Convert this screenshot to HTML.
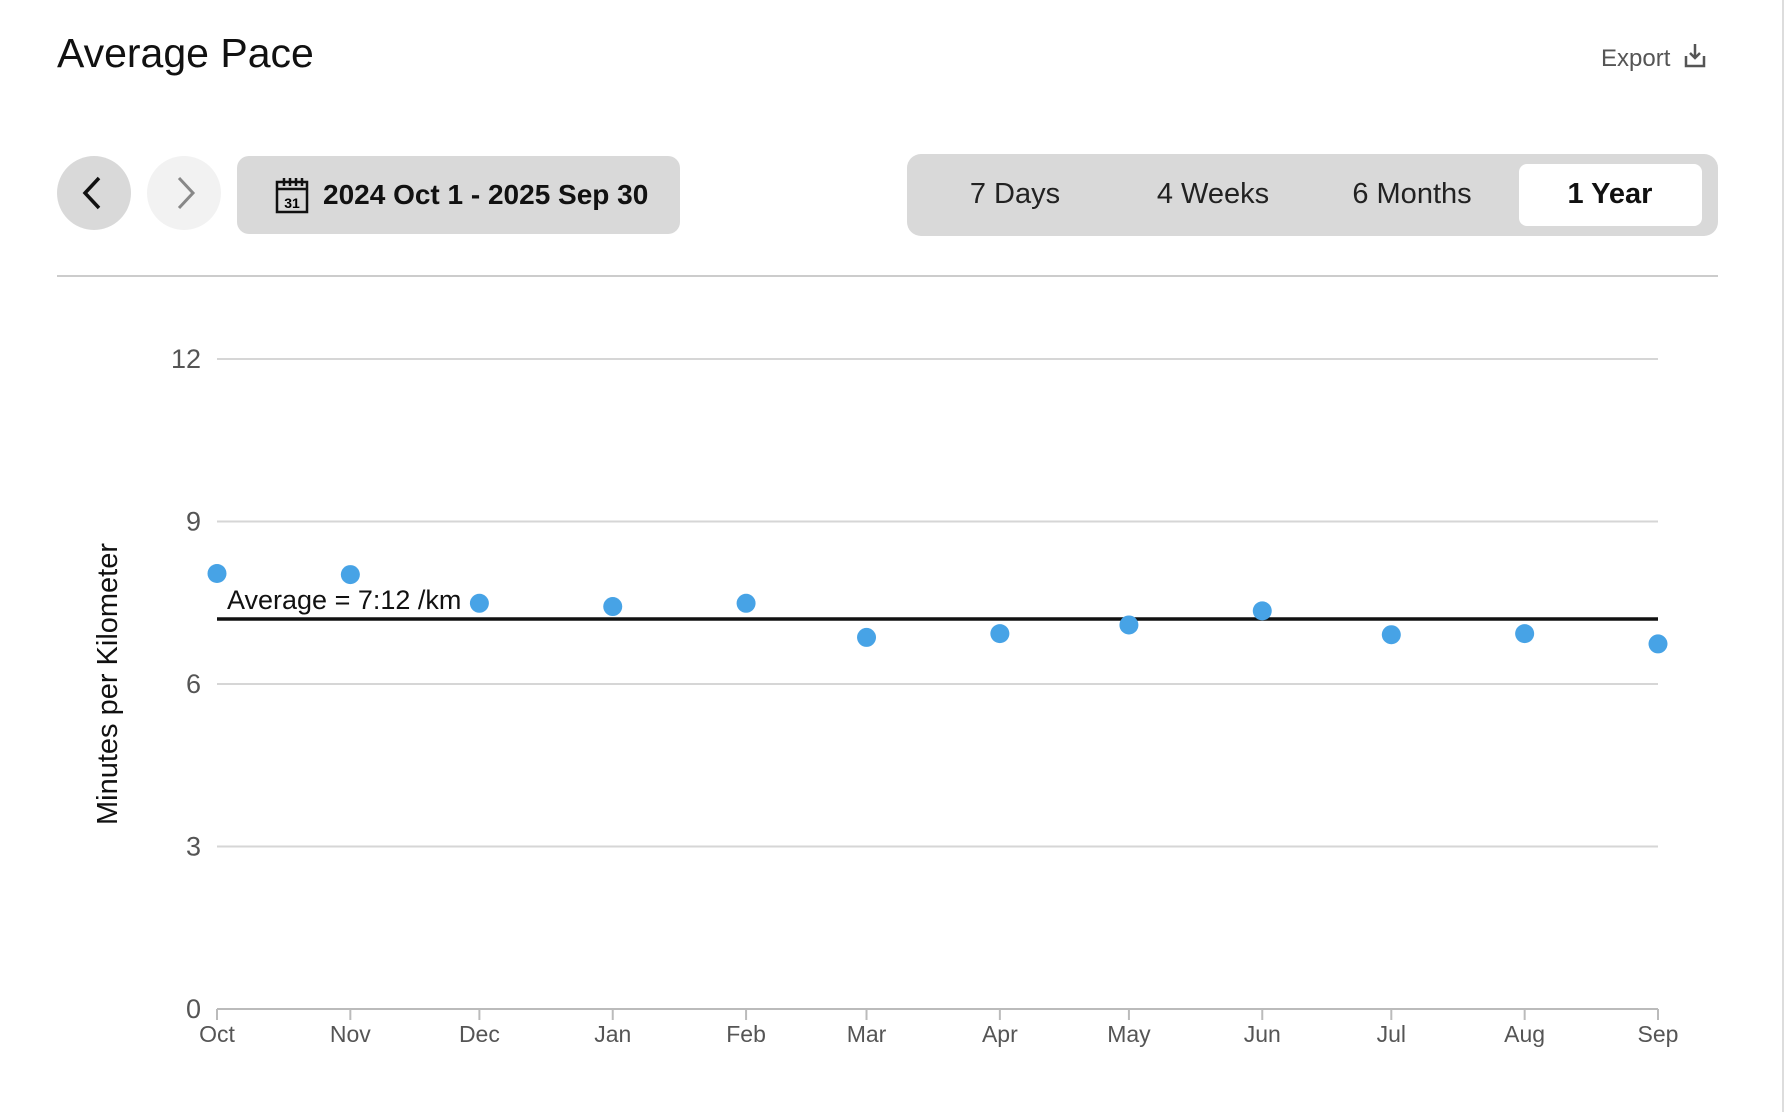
<!DOCTYPE html>
<html><head><meta charset="utf-8"><style>
body{margin:0;width:1788px;height:1112px;background:#fff;font-family:"Liberation Sans",sans-serif;overflow:hidden;position:relative}
.abs{position:absolute}
</style></head><body>
<div class="abs" style="left:57px;top:30px;font-size:41px;color:#111">Average Pace</div>
<div class="abs" style="left:1601px;top:42px;font-size:24px;color:#555">Export
<svg width="24" height="28" viewBox="0 0 24 28" style="vertical-align:-4px;margin-left:6px"><path d="M12 2v14M7 11l5 5 5-5" stroke="#555" stroke-width="2.5" fill="none"/><path d="M3 14v10h18V14" stroke="#555" stroke-width="2.5" fill="none"/></svg></div>
<div class="abs" style="left:57px;top:156px;width:74px;height:74px;border-radius:50%;background:#d9d9d9">
<svg width="74" height="74"><path d="M42 22L28 37l14 15" stroke="#111" stroke-width="3.5" fill="none"/></svg></div>
<div class="abs" style="left:147px;top:156px;width:74px;height:74px;border-radius:50%;background:#f2f2f2">
<svg width="74" height="74"><path d="M32 22l14 15-14 15" stroke="#888" stroke-width="3" fill="none"/></svg></div>
<div class="abs" style="left:237px;top:156px;width:443px;height:78px;border-radius:12px;background:#d9d9d9;font-size:28px;font-weight:bold;color:#111;line-height:78px">
<svg width="34" height="38" viewBox="0 0 34 38" style="position:absolute;left:38px;top:20px"><rect x="2" y="6" width="30" height="30" fill="none" stroke="#111" stroke-width="2.5"/><path d="M2 13h30M9 2v8M15 2v8M21 2v8M27 2v8" stroke="#111" stroke-width="2.5"/><text x="17" y="32" font-size="14" font-weight="bold" text-anchor="middle" font-family="Liberation Sans">31</text></svg>
<span style="position:absolute;left:86px">2024 Oct 1 - 2025 Sep 30</span></div>
<div class="abs" style="left:907px;top:154px;width:811px;height:82px;border-radius:14px;background:#d9d9d9"></div>
<div class="abs" style="left:1519px;top:164px;width:183px;height:62px;border-radius:8px;background:#fff"></div>
<div class="abs" style="left:915px;top:178px;width:200px;text-align:center;font-size:29px;color:#222">7 Days</div>
<div class="abs" style="left:1113px;top:178px;width:200px;text-align:center;font-size:29px;color:#222">4 Weeks</div>
<div class="abs" style="left:1312px;top:178px;width:200px;text-align:center;font-size:29px;color:#222">6 Months</div>
<div class="abs" style="left:1510px;top:178px;width:200px;text-align:center;font-size:29px;font-weight:bold;color:#111">1 Year</div>
<div class="abs" style="left:57px;top:275px;width:1661px;height:2px;background:#ccc"></div>
<div class="abs" style="left:1782px;top:0;width:2px;height:1112px;background:#ddd"></div>
<svg id="chart" class="abs" style="left:0;top:0" width="1788" height="1112" font-family="Liberation Sans"></svg>
<script>
const months=["Oct","Nov","Dec","Jan","Feb","Mar","Apr","May","Jun","Jul","Aug","Sep"];
const dayOffsets=[0,31,61,92,123,151,182,212,243,273,304,335];
const paceValues=[8.04,8.02,7.49,7.43,7.49,6.86,6.93,7.09,7.35,6.91,6.93,6.74];
const yTicks=[0,3,6,9,12];
const averagePace=7.2;
const averageLabel="Average = 7:12 /km";
const svg=document.getElementById('chart');
const NS="http://www.w3.org/2000/svg";
const X0=217,X1=1658,Y0=1009,Y1=359;
const x=d=>X0+(d-dayOffsets[0])/(dayOffsets[dayOffsets.length-1]-dayOffsets[0])*(X1-X0);
const y=v=>Y0-v/12*(Y0-Y1);
function mk(t,a,txt){const e=document.createElementNS(NS,t);for(const k in a)e.setAttribute(k,a[k]);if(txt!==undefined)e.textContent=txt;svg.appendChild(e);return e;}
yTicks.forEach(v=>{
 const g=mk('line',{x1:X0,x2:X1,y1:y(v),y2:y(v),stroke:v===0?'#bbb':'#d6d6d6','stroke-width':2});
 
 
 const t=mk('text',{x:201,y:y(v)+9,'text-anchor':'end','font-size':27,fill:'#555'},v);
 
 
});
months.forEach((m,i)=>{
 const tk=mk('line',{x1:x(dayOffsets[i]),x2:x(dayOffsets[i]),y1:Y0,y2:Y0+11,stroke:'#bbb','stroke-width':2});
 
 
 const t=mk('text',{x:x(dayOffsets[i]),y:1042,'text-anchor':'middle','font-size':23,fill:'#555'},m);
 
 
});
const yt=mk('text',{x:0,y:0,transform:'translate(117,684) rotate(-90)','text-anchor':'middle','font-size':29,fill:'#111'},'Minutes per Kilometer');


const al=mk('line',{x1:X0,x2:X1,y1:y(averagePace),y2:y(averagePace),stroke:'#111','stroke-width':3.5});


const at=mk('text',{x:227,y:y(averagePace)-10,'font-size':27,fill:'#111'},averageLabel);


paceValues.forEach((v,i)=>{
 const c=mk('circle',{cx:x(dayOffsets[i]),cy:y(v),r:9.5,fill:'#47a3e6'});
 
 
});
</script>
</body></html>
